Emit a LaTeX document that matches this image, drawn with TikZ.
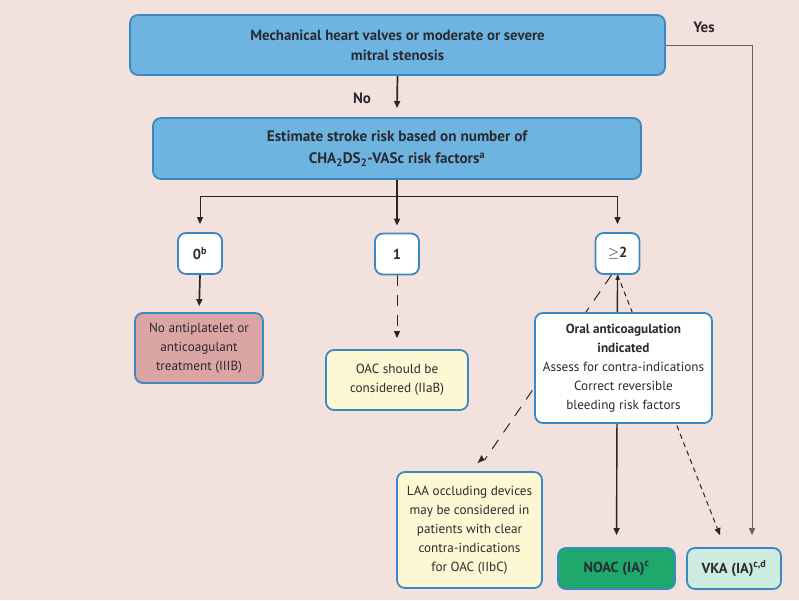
\documentclass[tikz,border=0pt]{standalone}
\usepackage{fontspec}
\setmainfont{PT Sans}
\usetikzlibrary{arrows.meta,calc}
\definecolor{bgc}{HTML}{F3E1DE}
\definecolor{bluefill}{HTML}{6DB5E0}
\definecolor{blueline}{HTML}{3A89C2}
\definecolor{redfill}{HTML}{DBA5A3}
\definecolor{yelfill}{HTML}{FDF8D3}
\definecolor{greenfill}{HTML}{1EA86C}
\definecolor{mintfill}{HTML}{CDEBDF}
\definecolor{txt}{HTML}{2B2A30}
\definecolor{lin}{HTML}{2A2526}
\definecolor{yesline}{HTML}{6A6062}
\pgfdeclarelayer{bglayer}
\pgfdeclarelayer{linelayer}
\pgfsetlayers{bglayer,linelayer,main}
\tikzset{
  box/.style={draw=blueline, line width=1.8pt, rounded corners=8pt, inner sep=0pt,
    align=center, text=txt, font=\fontsize{13.2}{19}\selectfont},
  bigbox/.style={box, fill=bluefill, font=\fontsize{14.8}{20}\selectfont\bfseries},
  numbox/.style={box, fill=white, minimum width=44pt, minimum height=41pt},
  conn/.style={draw=lin, line width=1pt},
  thickconn/.style={draw=lin, line width=1.7pt},
  tip/.style={-{Triangle[length=7pt,width=6pt]}},
  dashconn/.style={conn, dash pattern=on 11pt off 9pt},
  sdashconn/.style={conn, dash pattern=on 5pt off 4pt},
}
\begin{document}
\begin{tikzpicture}[x=1pt,y=-1pt]
\begin{pgfonlayer}{bglayer}
\fill[bgc] (0,0) rectangle (799,600);
\end{pgfonlayer}
\useasboundingbox (0,0) rectangle (799,600);

\node[bigbox, minimum width=535pt, minimum height=60pt] (b1) at (397.5,45)
  {Mechanical heart valves or moderate or severe\\mitral stenosis};
\node[bigbox, minimum width=488pt, minimum height=61pt, font=\fontsize{15.2}{22}\selectfont\bfseries] (b2) at (397,148.5)
  {Estimate stroke risk based on number of\\CHA\textsubscript{2}DS\textsubscript{2}-VASc risk factors\textsuperscript{a}};
\node[numbox, font=\fontsize{14.5}{19}\selectfont\bfseries] (z0) at (200,253.5) {0\textsuperscript{b}};
\node[numbox, font=\fontsize{14.5}{19}\selectfont\bfseries] (z1) at (397,254) {1};
\node[numbox, font=\fontsize{14.5}{19}\selectfont\bfseries] (z2) at (617.5,253.5) {$\geq$2};
\node[box, fill=redfill, minimum width=128pt, minimum height=70pt] (noap) at (199,348)
  {No antiplatelet or\\anticoagulant\\treatment (IIIB)};
\node[box, fill=yelfill, minimum width=142pt, minimum height=60pt] (oac) at (397,380)
  {OAC should be\\considered (IIaB)};
\node[box, fill=white, minimum width=177pt, minimum height=110pt] (oral) at (623.5,368)
  {\textbf{Oral anticoagulation}\\\textbf{indicated}\\Assess for contra-indications\\Correct reversible\\bleeding risk factors};
\node[box, fill=yelfill, minimum width=145pt, minimum height=116pt] (laa) at (469.5,530)
  {LAA occluding devices\\may be considered in\\patients with clear\\contra-indications\\for OAC (IIbC)};
\node[box, fill=greenfill, minimum width=117pt, minimum height=41pt, font=\fontsize{14.5}{19}\selectfont\bfseries] (noac) at (616.5,568.5)
  {NOAC (IA)\textsuperscript{c}};
\node[box, fill=mintfill, minimum width=94pt, minimum height=41pt, font=\fontsize{14.5}{19}\selectfont\bfseries] (vka) at (734,568.5)
  {VKA (IA)\textsuperscript{c,d}};

\node[font=\fontsize{15}{16}\selectfont\bfseries, text=txt] (yes) at (704,27) {Yes};
\node[font=\fontsize{15}{16}\selectfont\bfseries, text=txt] (no) at (362,98) {No};

\coordinate (hl) at (200,196);
\coordinate (hr) at (617.5,196);
\coordinate (laatip) at ($(laa.north)+(15,-11)$);
\coordinate (vkatip) at ($(vka.north)+(-14,-12)$);
\coordinate (yestip) at ($(vka.north)+(18,-12)$);
\coordinate (z2l) at ($(z2.south)+(-6,0)$);

\begin{pgfonlayer}{linelayer}
\draw[thickconn, tip] (b1.south) -- ($(b2.north)+(0,-9)$);
\draw[thickconn, tip, shorten >=7pt] (b2.south) -- (z1.north);
\draw[conn] (hl) -- (hr);
\draw[conn, tip, shorten >=8pt] (hl) -- (z0.north);
\draw[conn, tip, shorten >=8pt] (hr) -- (z2.north);
\draw[thickconn, tip, shorten >=6pt] (z0.south) -- (noap.north);
\draw[dashconn, tip, shorten >=11pt] (z1.south) -- (oac.north);
\draw[conn, line width=1.4pt, {Triangle[length=5pt,width=4pt]}-{Triangle[length=7pt,width=6pt]}, shorten >=12pt] (z2.south) -- (noac.north);
\draw[dashconn] (z2l) -- (laatip);
\fill[lin] (laatip) -- ++(-7,3) -- ++(4,-8) -- cycle;
\draw[sdashconn, tip] (z2.south) -- (vkatip);
\draw[conn, draw=yesline, tip] (b1.east) -| (yestip);
\end{pgfonlayer}
\end{tikzpicture}
\end{document}
